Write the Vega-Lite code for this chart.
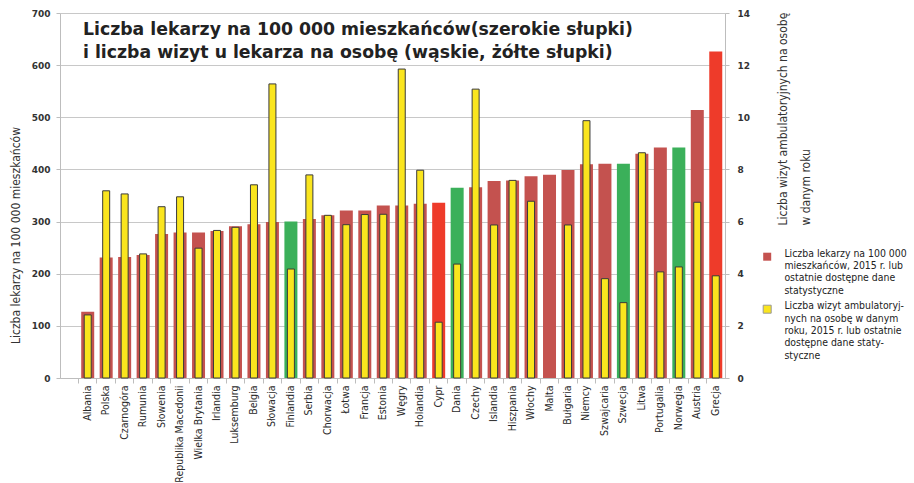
{
  "$schema": "https://vega.github.io/schema/vega-lite/v6.json",
  "width": 665,
  "height": 365,
  "autosize": {"type": "none"},
  "padding": {"left": 60, "top": 13, "right": 189, "bottom": 105},
  "background": "white",
  "config": {
    "view": {"stroke": null},
    "font": "DejaVu Sans Condensed, DejaVu Sans",
    "legend": {"padding": 0}
  },
  "title": {
    "text": ["Liczba lekarzy na 100 000 mieszkańców(szerokie słupki)", "i liczba wizyt u lekarza na osobę (wąskie, żółte słupki)"],
    "anchor": "start",
    "frame": "group",
    "font": "DejaVu Sans",
    "fontSize": 17.3,
    "fontWeight": "bold",
    "color": "#222222",
    "lineHeight": 23,
    "dx": 23,
    "offset": -52
  },
  "data": {
    "values": [
      {"kraj": "Albania", "lekarze": 127, "wizyty": 2.42, "kolor": "lekarze"},
      {"kraj": "Polska", "lekarze": 231, "wizyty": 7.18, "kolor": "lekarze"},
      {"kraj": "Czarnogóra", "lekarze": 232, "wizyty": 7.06, "kolor": "lekarze"},
      {"kraj": "Rumunia", "lekarze": 236, "wizyty": 4.76, "kolor": "lekarze"},
      {"kraj": "Słowenia", "lekarze": 276, "wizyty": 6.57, "kolor": "lekarze"},
      {"kraj": "Republika Macedonii", "lekarze": 279, "wizyty": 6.95, "kolor": "lekarze"},
      {"kraj": "Wielka Brytania", "lekarze": 279, "wizyty": 4.98, "kolor": "lekarze"},
      {"kraj": "Irlandia", "lekarze": 282, "wizyty": 5.66, "kolor": "lekarze"},
      {"kraj": "Luksemburg", "lekarze": 291, "wizyty": 5.78, "kolor": "lekarze"},
      {"kraj": "Belgia", "lekarze": 295, "wizyty": 7.41, "kolor": "lekarze"},
      {"kraj": "Słowacja", "lekarze": 299, "wizyty": 11.28, "kolor": "lekarze"},
      {"kraj": "Finlandia", "lekarze": 300, "wizyty": 4.18, "kolor": "zielony"},
      {"kraj": "Serbia", "lekarze": 305, "wizyty": 7.79, "kolor": "lekarze"},
      {"kraj": "Chorwacja", "lekarze": 312, "wizyty": 6.24, "kolor": "lekarze"},
      {"kraj": "Łotwa", "lekarze": 321, "wizyty": 5.88, "kolor": "lekarze"},
      {"kraj": "Francja", "lekarze": 321, "wizyty": 6.27, "kolor": "lekarze"},
      {"kraj": "Estonia", "lekarze": 331, "wizyty": 6.28, "kolor": "lekarze"},
      {"kraj": "Węgry", "lekarze": 331, "wizyty": 11.85, "kolor": "lekarze"},
      {"kraj": "Holandia", "lekarze": 334, "wizyty": 7.97, "kolor": "lekarze"},
      {"kraj": "Cypr", "lekarze": 336, "wizyty": 2.14, "kolor": "czerwony"},
      {"kraj": "Dania", "lekarze": 365, "wizyty": 4.37, "kolor": "zielony"},
      {"kraj": "Czechy", "lekarze": 366, "wizyty": 11.08, "kolor": "lekarze"},
      {"kraj": "Islandia", "lekarze": 378, "wizyty": 5.87, "kolor": "lekarze"},
      {"kraj": "Hiszpania", "lekarze": 379, "wizyty": 7.58, "kolor": "lekarze"},
      {"kraj": "Włochy", "lekarze": 387, "wizyty": 6.78, "kolor": "lekarze"},
      {"kraj": "Malta", "lekarze": 390, "wizyty": null, "kolor": "lekarze"},
      {"kraj": "Bułgaria", "lekarze": 399, "wizyty": 5.87, "kolor": "lekarze"},
      {"kraj": "Niemcy", "lekarze": 410, "wizyty": 9.87, "kolor": "lekarze"},
      {"kraj": "Szwajcaria", "lekarze": 411, "wizyty": 3.81, "kolor": "lekarze"},
      {"kraj": "Szwecja", "lekarze": 411, "wizyty": 2.89, "kolor": "zielony"},
      {"kraj": "Litwa", "lekarze": 430, "wizyty": 8.64, "kolor": "lekarze"},
      {"kraj": "Portugalia", "lekarze": 442, "wizyty": 4.07, "kolor": "lekarze"},
      {"kraj": "Norwegia", "lekarze": 442, "wizyty": 4.26, "kolor": "zielony"},
      {"kraj": "Austria", "lekarze": 514, "wizyty": 6.74, "kolor": "lekarze"},
      {"kraj": "Grecja", "lekarze": 626, "wizyty": 3.92, "kolor": "czerwony"}
    ]
  },
  "encoding": {
    "x": {
      "field": "kraj",
      "type": "nominal",
      "sort": null,
      "scale": {"paddingInner": 0, "paddingOuter": 0.5, "align": 1},
      "axis": {
        "title": null,
        "labelAngle": -90,
        "labelFontSize": 10.5,
        "labelColor": "#2a2a2a",
        "bandPosition": 0,
        "tickSize": 5,
        "tickColor": "#bdbdbd",
        "domainColor": "#bdbdbd",
        "labelPadding": 2,
        "labelLimit": 200,
        "grid": false
      }
    }
  },
  "layer": [
    {
      "mark": {"type": "bar", "size": 13},
      "encoding": {
        "y": {
          "field": "lekarze",
          "type": "quantitative",
          "scale": {"domain": [0, 700]},
          "axis": {
            "orient": "left",
            "values": [0, 100, 200, 300, 400, 500, 600, 700],
            "title": "Liczba lekarzy na 100 000 mieszkańców",
            "grid": true,
            "gridColor": "#c8c8c8",
            "domainColor": "#bdbdbd",
            "tickColor": "#bdbdbd",
            "tickSize": 4,
            "labelFont": "DejaVu Sans",
            "labelFontWeight": "bold",
            "labelFontSize": 9,
            "labelColor": "#333333",
            "labelPadding": 6,
            "titleFontSize": 12,
            "titleFontWeight": "normal",
            "titleColor": "#333333",
            "titleAngle": -90,
            "titleAlign": "center",
            "titleBaseline": "middle",
            "titleX": -45,
            "titleY": 222
          }
        },
        "color": {
          "field": "kolor",
          "type": "nominal",
          "scale": {"domain": ["lekarze", "zielony", "czerwony"], "range": ["#c4524f", "#3bb05a", "#ee3b2a"]},
          "legend": {
            "orient": "none",
            "legendX": 702,
            "legendY": 238.5,
            "values": ["lekarze"],
            "title": null,
            "symbolType": "square",
            "symbolSize": 64,
            "symbolStrokeWidth": 0,
            "labelExpr": "['Liczba lekarzy na 100 000', 'mieszkańców, 2015 r. lub', 'ostatnie dostępne dane', 'statystyczne']",
            "labelFontSize": 10.4,
            "labelLineHeight": 11.1,
            "labelColor": "#222222",
            "labelLimit": 0,
            "labelOffset": 12,
            "labelBaseline": "alphabetic"
          }
        }
      }
    },
    {
      "transform": [{"filter": "isValid(datum.wizyty)"}],
      "mark": {"type": "bar", "size": 7, "stroke": "#3a3a3a", "strokeWidth": 1},
      "encoding": {
        "y": {
          "field": "wizyty",
          "type": "quantitative",
          "scale": {"domain": [0, 14]},
          "axis": {
            "orient": "right",
            "values": [0, 2, 4, 6, 8, 10, 12, 14],
            "title": ["Liczba wizyt ambulatoryjnych na osobę", "w danym roku"],
            "grid": false,
            "domainColor": "#bdbdbd",
            "tickColor": "#bdbdbd",
            "tickSize": 4,
            "labelFont": "DejaVu Sans",
            "labelFontWeight": "bold",
            "labelFontSize": 9,
            "labelColor": "#333333",
            "labelPadding": 8,
            "titleFontSize": 12,
            "titleFontWeight": "normal",
            "titleColor": "#333333",
            "titleAngle": -90,
            "titleAlign": "left",
            "titleBaseline": "top",
            "titleLineHeight": 23,
            "titleX": 52,
            "titleY": 212
          }
        },
        "fill": {
          "datum": "wizyty",
          "scale": {"range": ["#fae51e"]},
          "legend": {
            "orient": "none",
            "legendX": 702,
            "legendY": 291,
            "title": null,
            "symbolType": "square",
            "symbolSize": 64,
            "symbolStrokeColor": "#999999",
            "symbolStrokeWidth": 1,
            "labelExpr": "['Liczba wizyt ambulatoryj-', 'nych na osobę w danym', 'roku, 2015 r. lub ostatnie', 'dostępne dane staty-', 'styczne']",
            "labelFontSize": 10.4,
            "labelLineHeight": 11.1,
            "labelColor": "#222222",
            "labelLimit": 0,
            "labelOffset": 12,
            "labelBaseline": "alphabetic"
          }
        }
      }
    }
  ],
  "resolve": {"scale": {"y": "independent"}}
}
